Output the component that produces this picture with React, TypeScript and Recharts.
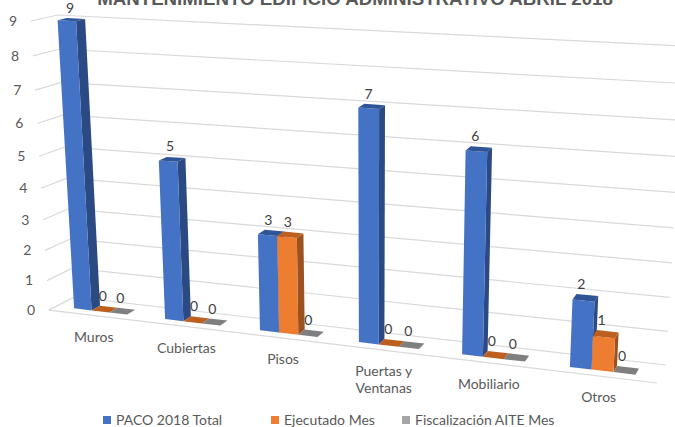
import { BarChart, Bar, XAxis, YAxis, CartesianGrid, LabelList, Legend } from 'recharts';

const categories = ['Muros', 'Cubiertas', 'Pisos', 'Puertas y Ventanas', 'Mobiliario', 'Otros'];
const pacoTotal = [9, 5, 3, 7, 6, 2];
const ejecutado = [0, 0, 3, 0, 0, 1];
const fiscalizacion = [0, 0, 0, 0, 0, 0];
const yTicks = [0, 1, 2, 3, 4, 5, 6, 7, 8, 9];

const data = categories.map((name, i) => ({
  name,
  paco: pacoTotal[i],
  ejecutado: ejecutado[i],
  fiscalizacion: fiscalizacion[i],
}));

const WIDTH = 675;
const HEIGHT = 427;
const LEGEND_H = 20;
const PLOT_H = HEIGHT - LEGEND_H - 1;

type Pt = [number, number];

// corners of the front and back planes of the 3d box: TL, TR, BR, BL
const FRONT: Pt[] = [[30, 21], [675, 57], [657, 383], [48, 310]];
const BACK: Pt[] = [[57, 15], [684, 46], [666, 365], [73, 297]];
const BAR_FRONT = 0.3;
const BAR_BACK = 0.65;

// square to quad homography
function homography(q: Pt[]) {
  const [[x0, y0], [x1, y1], [x2, y2], [x3, y3]] = q;
  const dx1 = x1 - x2;
  const dx2 = x3 - x2;
  const sx = x0 - x1 + x2 - x3;
  const dy1 = y1 - y2;
  const dy2 = y3 - y2;
  const sy = y0 - y1 + y2 - y3;
  const den = dx1 * dy2 - dx2 * dy1;
  const g = (sx * dy2 - dx2 * sy) / den;
  const h = (dx1 * sy - sx * dy1) / den;
  const a = x1 - x0 + g * x1;
  const b = x3 - x0 + h * x3;
  const d = y1 - y0 + g * y1;
  const e = y3 - y0 + h * y3;
  return (u: number, v: number): Pt => {
    const w = g * u + h * v + 1;
    return [(a * u + b * v + x0) / w, (d * u + e * v + y0) / w];
  };
}

const frontPlane = homography(FRONT);
const backPlane = homography(BACK);

// chart pixel + depth (0 front, 1 back) to screen
function project(x: number, y: number, depth: number): Pt {
  const u = x / WIDTH;
  const r = y / PLOT_H;
  // the side wall's levels bow a little more than the plane gives
  const v = r + 0.04 * Math.max(0, 1 - u / 0.25) * r * (1 - r);
  const f = frontPlane(u, v);
  const b = backPlane(u, v);
  return [f[0] + (b[0] - f[0]) * depth, f[1] + (b[1] - f[1]) * depth];
}

const poly = (pts: Pt[]) => pts.map((p) => `${p[0].toFixed(1)},${p[1].toFixed(1)}`).join(' ');

const makeBar = (front: string, side: string, top: string) => (props: any) => {
  const { x, y, width, height } = props;
  const r = x + width;
  const b = y + height;
  return (
    <g>
      <polygon fill={side} points={poly([project(r, y, BAR_FRONT), project(r, y, BAR_BACK), project(r, b, BAR_BACK), project(r, b, BAR_FRONT)])} />
      <polygon fill={front} points={poly([project(x, y, BAR_FRONT), project(r, y, BAR_FRONT), project(r, b, BAR_FRONT), project(x, b, BAR_FRONT)])} />
      <polygon fill={top} points={poly([project(x, y, BAR_FRONT), project(x, y, BAR_BACK), project(r, y, BAR_BACK), project(r, y, BAR_FRONT)])} />
    </g>
  );
};

const gridLine = (props: any) => {
  const { x1, x2, y1, index } = props;
  const pts: Pt[] = [project(x1, y1, 0), project(x1, y1, 1), project(x2, y1, 1)];
  const isFloor = Math.abs(y1 - PLOT_H) < 1;
  return (
    <g key={`grid-${index}`}>
      <polyline points={poly(pts)} fill="none" stroke="#d9d9d9" strokeWidth={1.2} />
      {isFloor && <polyline points={poly([project(x1, y1, 0), project(x2, y1, 0)])} fill="none" stroke="#d9d9d9" strokeWidth={1.2} />}
    </g>
  );
};

const YTick = (props: any) => {
  // the axis nudges its top tick inwards, payload.coordinate is the true level
  const [px, py] = project(0, props.payload.coordinate, 0);
  return (
    <text x={px - 17} y={py + 5} textAnchor="middle" fontSize={14} fill="#595959">
      {props.payload.value}
    </text>
  );
};

const XTick = (props: any) => {
  const [px, py] = project(props.x, PLOT_H, 0.1);
  const words: string[] = props.payload.value === 'Puertas y Ventanas' ? ['Puertas y', 'Ventanas'] : [props.payload.value];
  const y0 = py + 27.5;
  return (
    <text x={px - 2.5} y={y0} textAnchor="middle" fontSize={14} fill="#595959">
      {words.map((w, i) => (
        <tspan key={w} x={px - 2.5} y={y0 + i * 17}>
          {w}
        </tspan>
      ))}
    </text>
  );
};

const barLabel = (props: any) => {
  const { x, y, width, value } = props;
  const [px, py] = project(x + width / 2, y, BAR_BACK);
  return (
    <text x={px - 6} y={py - 6} textAnchor="middle" fontSize={14} fill="#404040">
      {value}
    </text>
  );
};

const legendLeft = [103, 271, 402];

const LegendBox = ({ payload }: any) => (
  <div style={{ position: 'relative', height: LEGEND_H, fontSize: 14, color: '#595959' }}>
    {(payload || []).map((item: any, i: number) => (
      <span key={item.value} style={{ position: 'absolute', left: legendLeft[i], top: 4, display: 'flex', alignItems: 'center', whiteSpace: 'nowrap' }}>
        <span style={{ width: 8, height: 8, background: item.color, marginRight: 5 }} />
        {item.value}
      </span>
    ))}
  </div>
);

export default function App() {
  return (
    <div style={{ position: 'absolute', left: 0, top: 0, width: WIDTH, height: HEIGHT, fontFamily: 'Lato, sans-serif', background: '#fff', overflow: 'hidden' }}>
      <BarChart
        width={WIDTH}
        height={HEIGHT}
        data={data}
        margin={{ top: 0, right: 0, bottom: 0, left: 0 }}
        barCategoryGap="20%"
        barGap={0}
      >
        <CartesianGrid vertical={false} horizontal={gridLine} />
        <XAxis dataKey="name" height={1} axisLine={false} tickLine={false} interval={0} tick={XTick} />
        <YAxis width={1} domain={[0, 9]} ticks={yTicks} axisLine={false} tickLine={false} tick={YTick} />
        <Legend content={LegendBox} verticalAlign="bottom" itemSorter={null} />
        <Bar dataKey="paco" name="PACO 2018 Total" fill="#4472c4" shape={makeBar('#4472c4', '#2b4a84', '#2f5597')} isAnimationActive={false}>
          <LabelList dataKey="paco" content={barLabel} />
        </Bar>
        <Bar dataKey="ejecutado" name="Ejecutado Mes" fill="#ed7d31" shape={makeBar('#ed7d31', '#9c5220', '#bd5f1f')} isAnimationActive={false}>
          <LabelList dataKey="ejecutado" content={barLabel} />
        </Bar>
        <Bar dataKey="fiscalizacion" name="Fiscalización AITE Mes" fill="#a5a5a5" shape={makeBar('#a5a5a5', '#6e6e6e', '#7f7f7f')} isAnimationActive={false}>
          <LabelList dataKey="fiscalizacion" content={barLabel} />
        </Bar>
        <text x={355} y={5} textAnchor="middle" fontFamily="Liberation Sans" fontWeight="bold" fontSize={18.7} fill="#595959">
          MANTENIMIENTO EDIFICIO ADMINISTRATIVO ABRIL 2018
        </text>
      </BarChart>
    </div>
  );
}
